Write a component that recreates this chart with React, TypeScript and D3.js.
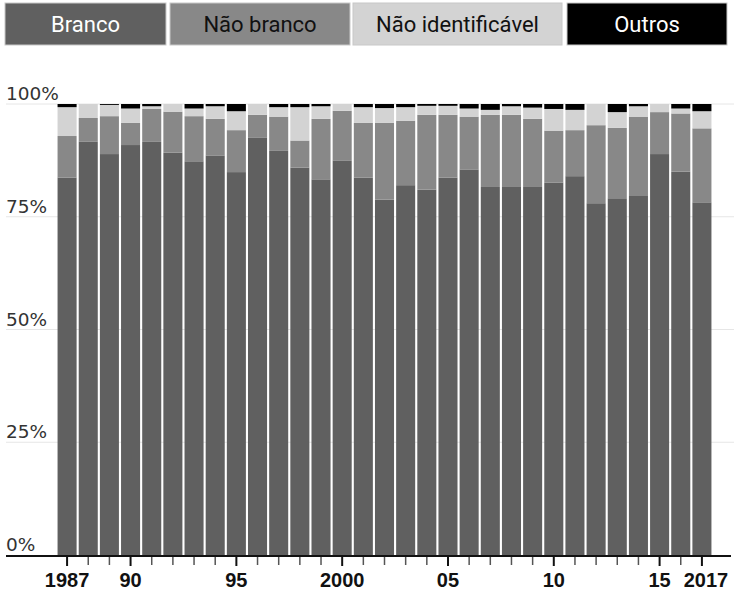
import React, { useEffect, useRef } from "react";
import * as d3 from "d3";

// Data (percent share per year)
const years = d3.range(1987, 2018);
const branco = [
  83.7, 91.7, 88.9, 90.9, 91.6, 89.2, 87.3, 88.6, 84.9, 92.6, 89.6, 85.9, 83.3, 87.5, 83.7, 78.8,
  82.0, 81.0, 83.7, 85.5, 81.6, 81.6, 81.6, 82.6, 84.0, 78.0, 79.1, 79.6, 88.9, 85.0, 78.2,
];
const naoBranco = [
  9.2, 5.2, 8.4, 4.9, 7.3, 9.1, 10.0, 8.1, 9.3, 5.0, 7.6, 6.0, 13.4, 11.0, 12.1, 17.0,
  14.3, 16.6, 13.9, 11.7, 16.0, 16.0, 15.1, 11.5, 10.2, 17.3, 15.6, 17.6, 9.3, 12.9, 16.4,
];
const naoIdentificavel = [
  6.4, 3.1, 2.5, 3.2, 0.6, 1.7, 1.7, 2.8, 4.2, 2.4, 2.1, 7.4, 2.8, 1.5, 3.5, 3.3,
  3.0, 2.0, 2.0, 1.8, 1.1, 1.9, 2.5, 4.8, 4.5, 4.7, 3.5, 2.3, 1.8, 1.1, 3.8,
];
const outros = [
  0.7, 0, 0.2, 1.0, 0.5, 0, 1.0, 0.5, 1.6, 0, 0.7, 0.7, 0.5, 0, 0.7, 0.9,
  0.7, 0.4, 0.4, 1.0, 1.3, 0.5, 0.8, 1.1, 1.3, 0, 1.8, 0.5, 0, 1.0, 1.6,
];

const keys = ["branco", "naoBranco", "naoIdentificavel", "outros"];
const labels = ["Branco", "Não branco", "Não identificável", "Outros"];
const colors = ["#606060", "#888888", "#d3d3d3", "#000000"];
const textColors = ["#ffffff", "#111111", "#111111", "#ffffff"];
const yTicks = [0, 25, 50, 75, 100];
const labeledYears = { 1987: "1987", 1990: "90", 1995: "95", 2000: "2000", 2005: "05", 2010: "10", 2015: "15", 2017: "2017" };

const App = () => {
  const ref = useRef(null);

  useEffect(() => {
    document.body.style.margin = "0";
    const width = 736;
    const height = 593;

    const svg = d3.select(ref.current).attr("width", width).attr("height", height);
    svg.selectAll("*").remove();

    const rows = years.map((yr, i) => ({
      year: yr,
      branco: branco[i],
      naoBranco: naoBranco[i],
      naoIdentificavel: naoIdentificavel[i],
      outros: outros[i],
    }));
    // normalise to 100%
    rows.forEach((r) => {
      const t = keys.reduce((s, k) => s + r[k], 0);
      keys.forEach((k) => (r[k] = (r[k] / t) * 100));
    });

    const x = d3
      .scaleBand()
      .domain(years)
      .range([56.5, 712.5])
      .paddingInner(0.1)
      .paddingOuter(0.05);

    const y = d3.scaleLinear().domain([0, 100]).range([555, 104]);

    // legend
    const legendX = [5, 170, 353, 567];
    const legendW = [161, 180, 209, 160];
    const legend = svg
      .append("g")
      .selectAll("g")
      .data(labels)
      .join("g")
      .attr("transform", (d, i) => `translate(${legendX[i]},3)`);
    legend
      .append("rect")
      .attr("width", (d, i) => legendW[i])
      .attr("height", 42)
      .attr("fill", (d, i) => colors[i])
      .attr("stroke", "#c8c8c8")
      .attr("stroke-width", 1);
    legend
      .append("text")
      .attr("x", (d, i) => legendW[i] / 2)
      .attr("y", 28.5)
      .attr("text-anchor", "middle")
      .attr("font-family", "Roboto, sans-serif")
      .attr("font-size", 22)
      .attr("fill", (d, i) => textColors[i])
      .text((d) => d);

    // gridlines
    svg
      .append("g")
      .selectAll("line")
      .data(yTicks.filter((t) => t > 0))
      .join("line")
      .attr("x1", 6)
      .attr("x2", 734)
      .attr("y1", (d) => y(d))
      .attr("y2", (d) => y(d))
      .attr("stroke", "#e6e6e6")
      .attr("stroke-width", 1);

    // y labels
    svg
      .append("g")
      .selectAll("text")
      .data(yTicks)
      .join("text")
      .attr("x", 6)
      .attr("y", (d) => y(d) - 4)
      .attr("font-family", "'DejaVu Sans', sans-serif")
      .attr("font-size", 18.5)
      .attr("fill", "#333")
      .text((d) => d + "%");

    // stacked bars
    const series = d3.stack().keys(keys)(rows);
    svg
      .append("g")
      .selectAll("g")
      .data(series)
      .join("g")
      .attr("fill", (d, i) => colors[i])
      .selectAll("rect")
      .data((d) => d)
      .join("rect")
      .attr("x", (d) => x(d.data.year))
      .attr("width", x.bandwidth())
      .attr("y", (d) => y(d[1]))
      .attr("height", (d) => Math.max(0, y(d[0]) - y(d[1])));

    // x axis
    svg
      .append("line")
      .attr("x1", 6)
      .attr("x2", 731)
      .attr("y1", 556)
      .attr("y2", 556)
      .attr("stroke", "#111")
      .attr("stroke-width", 2);

    svg
      .append("g")
      .selectAll("line")
      .data(years)
      .join("line")
      .attr("x1", (d) => x(d) + x.bandwidth() / 2)
      .attr("x2", (d) => x(d) + x.bandwidth() / 2)
      .attr("y1", 557)
      .attr("y2", (d) => (labeledYears[d] ? 566 : 565))
      .attr("stroke", (d) => (labeledYears[d] ? "#111" : "#555"))
      .attr("stroke-width", (d) => (labeledYears[d] ? 2 : 1.5));

    svg
      .append("g")
      .selectAll("text")
      .data(years.filter((d) => labeledYears[d]))
      .join("text")
      .attr("x", (d) => x(d) + x.bandwidth() / 2 + (d === 2017 ? 4 : 0))
      .attr("y", 587)
      .attr("text-anchor", "middle")
      .attr("font-family", "'Liberation Sans', Arial, sans-serif")
      .attr("font-weight", 700)
      .attr("font-size", 20)
      .attr("fill", "#111")
      .text((d) => labeledYears[d]);
  }, []);

  return <svg ref={ref} style={{ display: "block" }}></svg>;
};

export default App;
